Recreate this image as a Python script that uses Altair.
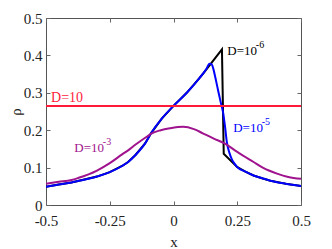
import altair as alt
import pandas as pd

# D = 1e-5 (blue)
blue_x = [-0.5, -0.45, -0.4, -0.375, -0.3, -0.25, -0.2, -0.178, -0.15, -0.112, -0.087, -0.046, 0.0,
          0.052, 0.1, 0.13, 0.141, 0.15, 0.157, 0.165, 0.176, 0.185, 0.194, 0.202, 0.209, 0.219,
          0.229, 0.24, 0.249, 0.28, 0.314, 0.35, 0.38, 0.44, 0.5]
blue_y = [0.049, 0.055, 0.060, 0.064, 0.076, 0.088, 0.105, 0.115, 0.133, 0.164, 0.193, 0.231, 0.265,
          0.300, 0.338, 0.365, 0.378, 0.376, 0.362, 0.338, 0.303, 0.275, 0.249, 0.210, 0.169, 0.140,
          0.122, 0.110, 0.102, 0.090, 0.079, 0.071, 0.065, 0.057, 0.051]

# D = 1e-6 (black)
black_x = [-0.5, -0.45, -0.4, -0.375, -0.3, -0.25, -0.2, -0.178, -0.15, -0.112, -0.087, -0.046, 0.0,
           0.052, 0.1, 0.117, 0.19, 0.197, 0.243, 0.249, 0.28, 0.314, 0.35, 0.38, 0.44, 0.5]
black_y = [0.049, 0.055, 0.060, 0.064, 0.076, 0.088, 0.105, 0.115, 0.133, 0.164, 0.193, 0.231, 0.265,
           0.300, 0.338, 0.352, 0.416, 0.137, 0.106, 0.102, 0.090, 0.079, 0.071, 0.065, 0.057, 0.051]

# D = 1e-3 (purple)
purple_x = [-0.5, -0.45, -0.4, -0.375, -0.3, -0.25, -0.2, -0.178, -0.15, -0.1, -0.087, -0.05, -0.014,
            0.038, 0.08, 0.117, 0.16, 0.202, 0.25, 0.314, 0.35, 0.406, 0.45, 0.5]
purple_y = [0.057, 0.062, 0.067, 0.072, 0.092, 0.112, 0.136, 0.146, 0.161, 0.185, 0.191, 0.200, 0.205,
            0.209, 0.203, 0.191, 0.177, 0.164, 0.142, 0.115, 0.100, 0.084, 0.075, 0.070]

# D = 10 (red)
red_x = [-0.5, 0.5]
red_y = [0.265, 0.265]

x_ticks = [-0.5, -0.25, 0, 0.25, 0.5]
y_ticks = [0, 0.1, 0.2, 0.3, 0.4, 0.5]

label_base = ["D=10", "D=10", "D=10", "D=10"]
label_sup = ["", "-6", "-5", "-3"]
label_x = [-0.48, 0.211, 0.234, -0.389]
label_y = [0.276, 0.402, 0.195, 0.142]
label_color = ["#ff1a3c", "#000000", "#0000ff", "#a0138e"]
label_size = [14, 13, 13, 13]

FONT = "Liberation Serif, Times New Roman, Times, serif"
xs = alt.Scale(domain=[-0.5, 0.5], nice=False, zero=False)
ys = alt.Scale(domain=[0, 0.5], nice=False, zero=False)

lab_expr = "datum.value < 0 ? '-' + format(-datum.value, '~g') : format(datum.value, '~g')"

x_axis = alt.Axis(values=x_ticks, labelExpr=lab_expr, title="x", offset=-4, tickSize=4,
                  domain=False, grid=False, labelPadding=8, labelFontSize=15, titleFontSize=15,
                  titleFontWeight="normal", labelFont=FONT, titleFont=FONT, labelColor="#222",
                  titleColor="#222", tickColor="#666", titlePadding=6, labelFlush=False)
y_axis = alt.Axis(values=y_ticks, labelExpr=lab_expr, title="ρ", offset=-4, tickSize=4,
                  domain=False, grid=False, labelPadding=4, labelFontSize=15, titleFontSize=15,
                  titleFontWeight="normal", labelFont=FONT, titleFont=FONT, labelColor="#222",
                  titleColor="#222", tickColor="#666", titlePadding=0, labelFlush=False)
x_top = alt.Axis(values=x_ticks, orient="top", labels=False, title=None, offset=-4, tickSize=4,
                 domain=False, grid=False, tickColor="#666")
y_right = alt.Axis(values=y_ticks, orient="right", labels=False, title=None, offset=-4, tickSize=4,
                   domain=False, grid=False, tickColor="#666")


def series(xv, yv, color, first=False):
    df = pd.DataFrame({"x": xv, "y": yv})
    return alt.Chart(df).mark_line(color=color, strokeWidth=2, clip=True, interpolate="monotone").encode(
        x=alt.X("x:Q", scale=xs, axis=None), y=alt.Y("y:Q", scale=ys, axis=None))


black = alt.Chart(pd.DataFrame({"x": black_x, "y": black_y})).mark_line(
    color="#000000", strokeWidth=2, clip=True).encode(
    x=alt.X("x:Q", scale=xs, axis=x_axis), y=alt.Y("y:Q", scale=ys, axis=y_axis))
blue = series(blue_x, blue_y, "#0000ff")
purple = series(purple_x, purple_y, "#a0138e")
red = series(red_x, red_y, "#ff1a3c")

mirror = alt.Chart(pd.DataFrame({"x": red_x, "y": red_y})).mark_line(opacity=0).encode(
    x=alt.X("x:Q", scale=xs, axis=x_top), y=alt.Y("y:Q", scale=ys, axis=y_right))

lab_df = pd.DataFrame({"x": label_x, "y": label_y, "base": label_base, "sup": label_sup,
                       "color": label_color, "size": label_size})
base_txt = alt.Chart(lab_df).mark_text(align="left", baseline="alphabetic", font=FONT).encode(
    x=alt.X("x:Q", scale=xs, axis=None), y=alt.Y("y:Q", scale=ys, axis=None),
    text="base:N", color=alt.Color("color:N", scale=None),
    size=alt.Size("size:Q", scale=None))
sup_txt = alt.Chart(lab_df).mark_text(align="left", baseline="alphabetic", font=FONT, fontSize=10,
                                      dx=28.5, dy=-7).encode(
    x=alt.X("x:Q", scale=xs, axis=None), y=alt.Y("y:Q", scale=ys, axis=None),
    text="sup:N", color=alt.Color("color:N", scale=None))

chart = alt.layer(black, blue, purple, red, mirror, base_txt, sup_txt).resolve_axis(
    x="independent", y="independent").properties(
    width=255, height=187,
    autosize=alt.AutoSizeParams(type="none"),
    padding={"left": 38, "top": 10, "right": 20, "bottom": 44},
    background="white",
).configure_view(stroke="#555", strokeWidth=1)

chart.save("out.html", embed_options={"renderer": "svg", "actions": False})
